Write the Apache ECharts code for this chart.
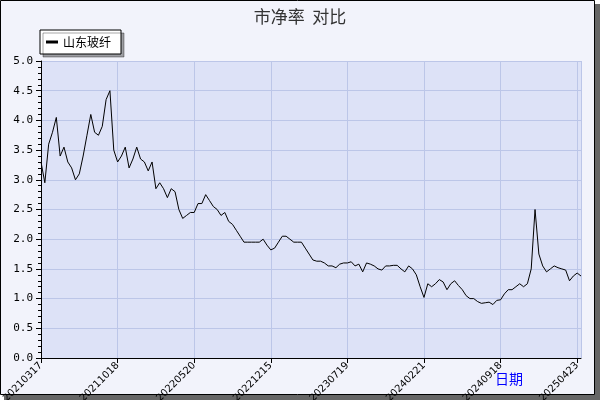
<!DOCTYPE html>
<html><head><meta charset="utf-8">
<script src="https://cdn.jsdelivr.net/npm/echarts@6/dist/echarts.min.js"></script>
<style>html,body{margin:0;padding:0;background:#fff}#c{width:600px;height:400px}</style>
</head><body><div id="c"></div>
<script>
const seriesName = '山东玻纤';
const tickLabels = ['20210317','20211018','20220520','20221215','20230719','20240221','20240918','20250423'];
const pbValues = [
 3.3,2.95,3.6,3.8,4.05,3.4,3.55,3.3,3.2,3.0,3.1,3.4,3.75,4.1,3.8,3.75,3.9,4.35,4.5,3.5,
 3.3,3.4,3.55,3.2,3.35,3.55,3.35,3.3,3.15,3.3,2.85,2.95,2.85,2.7,2.85,2.8,2.5,2.35,2.4,2.45,
 2.45,2.6,2.6,2.75,2.65,2.55,2.5,2.4,2.45,2.3,2.25,2.15,2.05,1.95,1.95,1.95,1.95,1.95,2.0,1.9,
 1.82,1.85,1.95,2.05,2.05,2.0,1.95,1.95,1.95,1.85,1.75,1.65,1.63,1.63,1.6,1.55,1.55,1.52,1.58,1.6,
 1.6,1.62,1.55,1.58,1.45,1.6,1.58,1.55,1.5,1.48,1.55,1.55,1.56,1.56,1.5,1.45,1.55,1.5,1.4,1.2,
 1.02,1.25,1.2,1.25,1.32,1.28,1.15,1.25,1.3,1.22,1.15,1.05,1.0,1.0,0.95,0.92,0.93,0.94,0.9,0.97,
 0.98,1.08,1.15,1.15,1.2,1.25,1.2,1.25,1.5,2.5,1.75,1.55,1.45,1.5,1.55,1.52,1.5,1.48,1.3,1.38,
 1.43,1.38
];
const tickStep = 20;
const data = pbValues.map((v,i)=>[i,v]);
const chart = echarts.init(document.getElementById('c'));
chart.setOption({
  animation:false,
  backgroundColor:'#ffffff',
  graphic:[
    {type:'rect',z:-10,shape:{x:4,y:4,width:596,height:396},style:{fill:'#666666'}},
    {type:'rect',z:-9,shape:{x:0.5,y:0.5,width:594,height:394},style:{fill:'#f2f3fb',stroke:'#000',lineWidth:1}},
    {type:'text',left:495,top:372,style:{text:'日期',fill:'#0000ff',font:'14px "Noto Sans CJK SC"'}}
  ],
  title:{text:'市净率  对比',left:'center',top:3,textStyle:{fontSize:17,fontWeight:'normal',color:'#333',fontFamily:'Noto Sans CJK SC'}},
  legend:{left:40,top:30,itemWidth:12,itemHeight:3,padding:[6,10,6,6],backgroundColor:'#fff',borderColor:'#000',borderWidth:1,borderRadius:0,
    shadowColor:'rgba(0,0,0,0.35)',shadowOffsetX:3,shadowOffsetY:3,shadowBlur:0,
    textStyle:{fontSize:12,color:'#000',fontFamily:'Noto Sans CJK SC'},data:[{name:seriesName,icon:'rect'}]},
  grid:{left:41,right:19,top:61,bottom:42,show:true,backgroundColor:'#dde2f7',borderWidth:0,outerBoundsMode:'none',containLabel:false},
  xAxis:{type:'value',min:0,max:141,interval:tickStep,
    axisLine:{show:true,lineStyle:{color:'#000'}},axisTick:{show:true,length:5,lineStyle:{color:'#000'}},
    splitLine:{show:true,lineStyle:{color:'#bcc6e8'}},
    axisLabel:{rotate:45,fontSize:10,color:'#000',margin:6,showMaxLabel:false,fontFamily:'DejaVu Sans',
      formatter:v=>(v%tickStep===0? (tickLabels[v/tickStep]||''):'')}},
  yAxis:{type:'value',min:0,max:5,interval:0.5,
    axisLine:{show:true,lineStyle:{color:'#000'}},axisTick:{show:true,length:5,lineStyle:{color:'#000'}},
    minorTick:{show:true,splitNumber:5,length:3,lineStyle:{color:'#000'}},
    splitLine:{show:true,lineStyle:{color:'#bcc6e8'}},
    axisLabel:{fontSize:11,color:'#000',fontFamily:'DejaVu Sans Mono',formatter:v=>v.toFixed(1)}},
  series:[{name:seriesName,type:'line',data:data,showSymbol:false,lineStyle:{color:'#000',width:1},itemStyle:{color:'#000'}}]
});
</script></body></html>
